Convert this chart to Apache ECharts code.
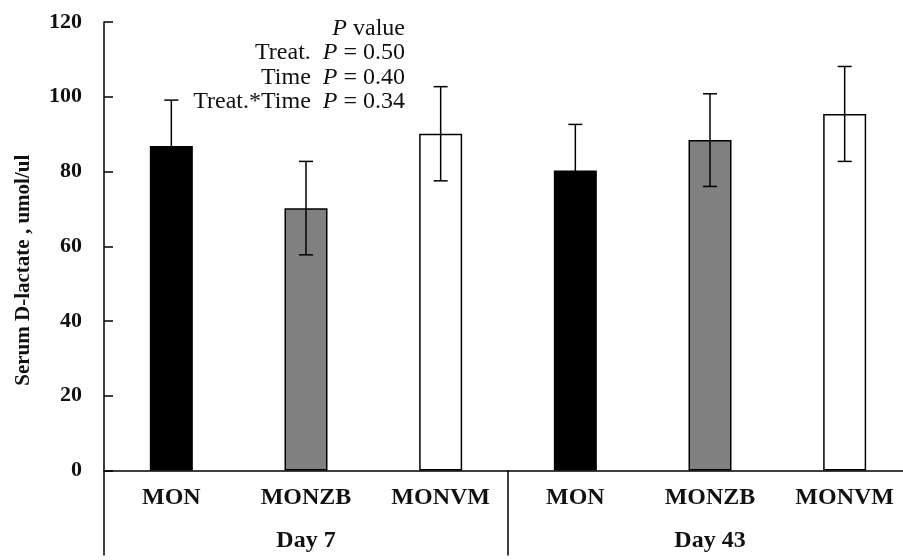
<!DOCTYPE html>
<html><head><meta charset="utf-8">
<script src="https://cdn.jsdelivr.net/npm/echarts@6/dist/echarts.min.js"></script>
<style>html,body{margin:0;padding:0;background:#fff}#c{width:903px;height:560px}</style>
</head><body><div id="c"></div>
<script>
// ---- data ----
const days = ['Day 7', 'Day 43'];
const treatments = ['MON', 'MONZB', 'MONVM'];
const meanDay7 = [86.8, 70.2, 90.1];
const meanDay43 = [80.3, 88.4, 95.4];
const seDay7 = [12.3, 12.5, 12.6];
const seDay43 = [12.3, 12.4, 12.7];
const yTickMin = 0, yTickMax = 120, yTickStep = 20;
const yAxisTitle = 'Serum D-lactate , umol/ul';
const pValueLabels = ['Treat.', 'Time', 'Treat.*Time'];
const pValues = ['0.50', '0.40', '0.34'];

// ---- styles ----
const fillByTreatment = { MON: '#000000', MONZB: '#808080', MONVM: '#ffffff' };
const serif = '"Liberation Serif", "Times New Roman", serif';

// ---- build ----
const means = [meanDay7, meanDay43];
const ses = [seDay7, seDay43];
const cats = [], barData = [], errData = [];
days.forEach((d, di) => {
  treatments.forEach((t, ti) => {
    const idx = cats.length;
    cats.push(t);
    const m = means[di][ti], s = ses[di][ti];
    barData.push({ value: m, itemStyle: { color: fillByTreatment[t] } });
    errData.push([idx, m - s, m + s]);
  });
});

const pText = ['{i|P} value']
  .concat(pValueLabels.map((l, i) => l + '  {i|P} = ' + pValues[i]))
  .join('\n');

const chart = echarts.init(document.getElementById('c'), null, { renderer: 'canvas' });
chart.setOption({
  animation: false,
  backgroundColor: '#fff',
  grid: { left: 104, top: 22, bottom: 89.5, width: 808, containLabel: false, outerBoundsMode: 'none' },
  xAxis: [{
    type: 'category',
    data: cats,
    axisLine: { show: true, lineStyle: { color: '#000', width: 1.5 } },
    axisTick: {
      show: true, inside: false, length: 85,
      interval: (i) => i === 0 || i === treatments.length,
      lineStyle: { color: '#000', width: 1.5 }
    },
    axisLabel: { color: '#111', fontFamily: serif, fontWeight: 'bold', fontSize: 24, margin: 15, interval: 0 },
    splitLine: { show: false }
  }, {
    type: 'category',
    data: days,
    position: 'bottom',
    offset: 58,
    axisLine: { show: false },
    axisTick: { show: false },
    axisLabel: { color: '#111', fontFamily: serif, fontWeight: 'bold', fontSize: 24, margin: 0 },
    splitLine: { show: false }
  }],
  yAxis: {
    type: 'value',
    min: yTickMin, max: yTickMax, interval: yTickStep,
    name: yAxisTitle,
    nameLocation: 'middle',
    nameRotate: 90,
    nameGap: 70,
    nameTextStyle: { color: '#111', fontFamily: serif, fontWeight: 'bold', fontSize: 21, padding: [0, 48, 0, 0] },
    axisLine: { show: true, lineStyle: { color: '#000', width: 1.5 } },
    axisTick: { show: true, inside: true, length: 9, lineStyle: { color: '#000', width: 1.5 } },
    axisLabel: { color: '#111', fontFamily: serif, fontWeight: 'bold', fontSize: 22, margin: 22 },
    splitLine: { show: false }
  },
  graphic: [{
    type: 'text',
    right: 903 - 405,
    top: 16,
    style: {
      text: pText,
      fill: '#111',
      font: '24px ' + serif,
      textAlign: 'right',
      lineHeight: 24.5,
      rich: {
        i: { fontStyle: 'italic', fontFamily: serif, fontSize: 24, fill: '#111' }
      }
    }
  }],
  series: [{
    type: 'bar',
    data: barData,
    barWidth: 43,
    itemStyle: { borderColor: '#000', borderWidth: 1.5 },
    z: 2
  }, {
    type: 'custom',
    data: errData,
    encode: { x: 0, y: [1, 2] },
    z: 3,
    renderItem: (params, api) => {
      const x = api.value(0);
      const top = api.coord([x, api.value(2)]);
      const bot = api.coord([x, api.value(1)]);
      const hw = 7;
      const st = { stroke: '#000', lineWidth: 1.5 };
      return {
        type: 'group', children: [
          { type: 'line', shape: { x1: top[0], y1: top[1], x2: bot[0], y2: bot[1] }, style: st },
          { type: 'line', shape: { x1: top[0] - hw, y1: top[1], x2: top[0] + hw, y2: top[1] }, style: st },
          { type: 'line', shape: { x1: bot[0] - hw, y1: bot[1], x2: bot[0] + hw, y2: bot[1] }, style: st }
        ]
      };
    }
  }]
});
</script></body></html>
